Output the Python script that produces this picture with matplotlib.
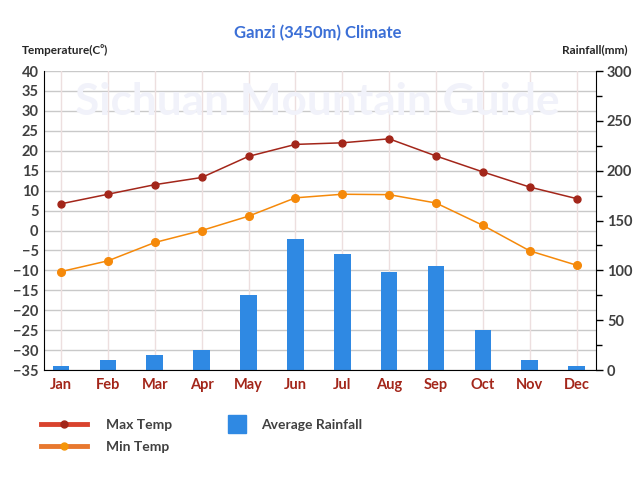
import numpy as np
import matplotlib
matplotlib.use('Agg')
import matplotlib.pyplot as plt
from matplotlib.lines import Line2D

plt.rcParams['font.family'] = ['Lato', 'DejaVu Sans']

# data
months = ['Jan', 'Feb', 'Mar', 'Apr', 'May', 'Jun', 'Jul', 'Aug', 'Sep', 'Oct', 'Nov', 'Dec']
max_temp = [6.7, 9.1, 11.5, 13.3, 18.6, 21.6, 22.0, 23.0, 18.7, 14.7, 10.9, 8.0]
min_temp = [-10.3, -7.6, -3.0, 0.0, 3.6, 8.2, 9.1, 9.0, 6.9, 1.3, -5.1, -8.7]
rainfall = [4, 10, 15, 20, 75, 131, 116, 98, 104, 40, 10, 4]

temp_ticks = list(range(-35, 45, 5))
rain_ticks = list(range(0, 350, 50))

x = np.arange(len(months))

fig = plt.figure(figsize=(6.4, 4.8), dpi=100)
ax = fig.add_axes([0.069, 0.229, 0.862, 0.623])
ax2 = ax.twinx()

# rainfall bars on the right axis, drawn behind the temperature lines
ax2.bar(x, rainfall, width=0.355, color='#2f89e3', zorder=2)
ax2.set_ylim(0, 300)
ax2.set_yticks(rain_ticks)
ax2.set_yticks(range(25, 300, 50), minor=True)
ax2.tick_params(axis='y', which='major', length=5, width=1, colors='black',
                labelcolor='#404040', labelsize=10.5, pad=3)
ax2.tick_params(axis='y', which='minor', length=4, width=1, colors='black')
for lab in ax2.get_yticklabels():
    lab.set_fontweight('bold')

ax.set_zorder(ax2.get_zorder() + 1)
ax.patch.set_visible(False)

ax.plot(x, max_temp, color='#a3261a', lw=1.1, marker='o', ms=5, zorder=4)
ax.plot(x, min_temp, color='#f5890a', lw=1.1, marker='o', ms=5.5, zorder=4)

ax.set_ylim(-35, 40)
ax.set_xlim(-0.36, 11.41)
ax2.set_xlim(-0.36, 11.41)
ax.set_yticks(temp_ticks)
ax.set_xticks(x)
ax.set_xticklabels(months)
ax.tick_params(axis='y', length=0, labelcolor='#404040', labelsize=10.5, pad=4)
ax.tick_params(axis='x', length=0, labelcolor='#a3261a', labelsize=10.5, pad=6)
for lab in ax.get_yticklabels() + ax.get_xticklabels():
    lab.set_fontweight('bold')

# gridlines live on the bar axes so they sit behind everything
for t in temp_ticks:
    ax2.axhline((t + 35) / 75 * 300, color='#c9c9c9', lw=1, zorder=0)
for xi in x:
    ax2.axvline(xi, color='#eddfdf', lw=1, zorder=0)

for a in (ax, ax2):
    a.spines['top'].set_visible(False)
    a.spines['left'].set_color('black')
    a.spines['right'].set_color('black')
    a.spines['bottom'].set_color('black')
ax.spines['right'].set_visible(False)
ax2.spines['left'].set_visible(False)
ax2.spines['bottom'].set_visible(False)

# watermark
fig.text(0.495, 0.788, 'Sichuan Mountain Guide', fontsize=31.8, fontweight='bold',
         color='#f1f2fa', ha='center', va='center', zorder=0)

fig.text(0.497, 0.931, 'Ganzi (3450m) Climate', fontsize=12, fontweight='bold',
         color='#3b6fd6', ha='center', va='center')
fig.text(0.034, 0.896, 'Temperature(C\u2070)', fontsize=8.5, fontweight='bold',
         color='#262626', ha='left', va='center')
fig.text(0.98, 0.896, 'Rainfall(mm)', fontsize=8.5, fontweight='bold',
         color='#262626', ha='right', va='center')

line_handles = [
    Line2D([0], [0], color='#d9432e', lw=3.5, marker='o', ms=5,
           markerfacecolor='#a3261a', markeredgecolor='#a3261a'),
    Line2D([0], [0], color='#e8782f', lw=3.5, marker='o', ms=5,
           markerfacecolor='#f5950a', markeredgecolor='#f5950a'),
]
leg1 = fig.legend(line_handles, ['Max Temp', 'Min Temp'],
                  loc='upper left', bbox_to_anchor=(0.053, 0.142),
                  frameon=False, handlelength=3.3, handletextpad=1.4,
                  labelspacing=0.75, borderpad=0,
                  prop={'weight': 'bold', 'size': 10})
rain_handle = [Line2D([0], [0], ls='none', marker='s', ms=12.5,
                      markerfacecolor='#2f89e3', markeredgecolor='#2f89e3')]
leg2 = fig.legend(rain_handle, ['Average Rainfall'],
                  loc='upper left', bbox_to_anchor=(0.345, 0.142),
                  frameon=False, handlelength=1.4, handletextpad=1.0,
                  borderpad=0, prop={'weight': 'bold', 'size': 10})
for leg in (leg1, leg2):
    for t in leg.get_texts():
        t.set_color('#404040')

fig.savefig('out.png', dpi=100)
